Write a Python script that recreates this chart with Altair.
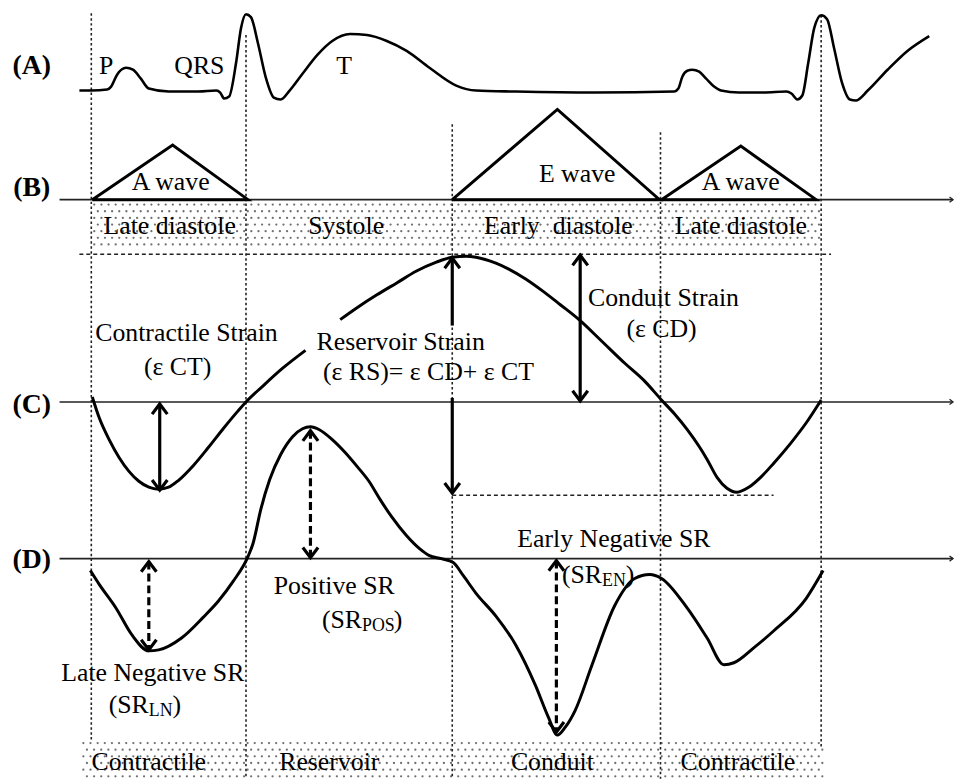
import altair as alt
import pandas as pd
import numpy as np

# ---------------- data (image-like coordinates: x right, y down) ----------------
ecg_x = [80, 92, 108, 112, 118, 127, 134, 142, 150, 170, 200, 218, 222, 226, 231, 238, 243, 248, 253, 260,
         268, 276, 283, 292, 305, 320, 335, 353, 370, 390, 410, 433, 460, 480, 520, 600, 680, 684, 688, 693,
         698, 705, 712, 720, 727, 745, 770, 793, 798, 804, 809, 815, 821, 828, 834, 841, 849, 857, 863, 875,
         895, 915, 937]
ecg_y = [88, 88, 87, 84, 72, 65, 67, 76, 86, 89, 89, 88, 90, 96, 94, 60, 25, 11, 14, 40,
         75, 95, 97, 88, 71, 52, 38, 31, 32, 38, 48, 65, 83, 88, 89, 90, 89, 86, 74, 68,
         67, 69, 76, 84, 88, 90, 90, 89, 91, 97, 93, 60, 25, 12, 16, 45, 80, 97, 98, 88,
         67, 48, 33]

# strain curve (C): two pieces (gap behind the label)
c1_x = [93, 100, 110, 120, 130, 140, 150, 160, 170, 180, 195, 210, 225, 240, 248, 265, 285, 308]
c1_y = [397, 418, 440, 458, 472, 482, 488, 490, 488, 481, 466, 448, 429, 411, 402, 386, 368, 350]
c2_x = [343, 360, 380, 400, 420, 440, 456, 470, 480, 500, 513, 530, 547, 565, 585, 605, 630, 650, 667,
        680, 693, 705, 713, 723, 733, 743, 755, 768, 780, 797, 813, 828]
c2_y = [319, 307, 294, 282, 270, 261, 256, 255, 256, 262, 268, 278, 290, 304, 320, 339, 363, 381, 400,
        414, 430, 447, 460, 478, 489, 493, 488, 477, 464, 444, 423, 400]

# strain-rate curve (D)
d_x = [91, 100, 117, 133, 150, 160, 183, 205, 220, 235, 250, 255, 263, 272, 283, 295, 305, 313, 322, 335,
       348, 360, 372, 383, 395, 410, 423, 433, 445, 457, 467, 480, 500, 520, 540, 553, 562, 570, 580, 597,
       620, 640, 655, 667, 693, 713, 730, 740, 760, 780, 813, 830]
d_y = [572, 586, 610, 637, 653, 652, 640, 619, 603, 583, 558, 545, 510, 480, 455, 437, 429, 427, 430, 440,
       453, 467, 482, 500, 518, 537, 550, 557, 560, 564, 577, 595, 618, 647, 688, 720, 738, 730, 713, 667,
       607, 580, 576, 580, 610, 640, 667, 665, 650, 633, 600, 572]

# mitral inflow triangles (B)
tri_id = ["A1", "A1", "A1", "A1", "E", "E", "E", "E", "A2", "A2", "A2", "A2"]
tri_x = [93, 174, 250, 93, 456, 562, 665, 456, 667, 747, 823, 667]
tri_y = [198, 143, 198, 198, 198, 107, 198, 198, 198, 144, 198, 198]

# baselines (B), (C), (D)
base_y = [198, 402, 560]
base_x0, base_x1 = 60, 961

# dotted phase separators
vline_x = [92, 248, 456, 666, 828]
vline_top = [10, 32, 122, 130, 12]
vline_bot = [745, 782, 782, 782, 752]

# dashed reference lines
hdash_y = [253, 496]
hdash_x0 = [80, 456]
hdash_x1 = [838, 780]

# shaded phase bands
band_x0 = [93, 82]
band_x1 = [829, 830]
band_y0 = [200, 743]
band_y1 = [247, 781]

# solid arrows: x, y0, y1, head at top, head at bottom
sa_x = [161, 456, 456, 585]
sa_y0 = [404, 257, 398, 254]
sa_y1 = [491, 325, 494, 401]
sa_top = [1, 1, 0, 1]
sa_bot = [1, 0, 1, 1]
# dashed arrows
da_x = [313, 150, 561]
da_y0 = [431, 563, 562]
da_y1 = [559, 652, 735]

# labels
lab_text = ["(A)", "(B)", "(C)", "(D)"]
lab_x = [32, 32, 32, 32]
lab_y = [63, 186, 405, 561]

txt = [
    ("P", 107, 63), ("QRS", 201, 63), ("T", 347, 63),
    ("A wave", 172, 180), ("E wave", 582, 172), ("A wave", 747, 180),
    ("Late diastole", 171, 225), ("Systole", 349, 225), ("Early\u2002diastole", 563, 225),
    ("Late diastole", 747, 225),
    ("Contractile Strain", 188, 333), ("(\u03b5 CT)", 179, 367),
    ("Reservoir Strain", 404, 342), ("(\u03b5 RS)= \u03b5 CD+ \u03b5 CT", 432, 372),
    ("Conduit Strain", 669, 297), ("(\u03b5 CD)", 667, 329),
    ("Positive SR", 337, 588), ("Late Negative SR", 154, 675), ("Early Negative SR", 619, 540),
    ("Contractile", 150, 765), ("Reservoir", 332, 765), ("Conduit", 557, 765), ("Contractile", 744, 765),
]
# subscripted labels: (main, sub, x where subscript starts, x where it ends, y)
subs = [("(SR", "POS", 365, 397, 622), ("(SR", "LN", 150, 174, 708), ("(SR", "EN", 607, 631, 577)]

# ---------------- frames ----------------
FONT = "Liberation Serif"
FS = 26
X = alt.X("x:Q", scale=alt.Scale(domain=[8, 957], nice=False, zero=False), axis=None)
Y = alt.Y("y:Q", scale=alt.Scale(domain=[8, 774], nice=False, zero=False, reverse=True), axis=None)

def curve_df(xs, ys, g):
    return pd.DataFrame({"x": xs, "y": ys, "g": g, "i": range(len(xs))})

curves = curve_df(ecg_x, ecg_y, "ecg")
strain = pd.concat([curve_df(c1_x, c1_y, "c1"), curve_df(c2_x, c2_y, "c2"), curve_df(d_x, d_y, "d")])
tri = pd.DataFrame({"x": tri_x, "y": tri_y, "g": tri_id, "i": range(len(tri_x))})

base = pd.DataFrame({"x": [base_x0] * 3, "x2": [base_x1] * 3, "y": base_y, "y2": base_y})
vlines = pd.DataFrame({"x": vline_x, "x2": vline_x, "y": vline_top, "y2": vline_bot})
hdash = pd.DataFrame({"x": hdash_x0, "x2": hdash_x1, "y": hdash_y, "y2": hdash_y})

# dot texture inside the phase bands
dots = []
for bx0, bx1, by0, by1 in zip(band_x0, band_x1, band_y0, band_y1):
    for r, yy in enumerate(np.arange(by0 + 3, by1, 6.7)):
        off = 0 if r % 2 == 0 else 3.6
        for xx in np.arange(bx0 + 2 + off, bx1, 7.2):
            dots.append({"x": float(xx), "y": float(yy)})
dots = pd.DataFrame(dots)

sarr = pd.DataFrame({"x": sa_x, "x2": sa_x, "y": sa_y0, "y2": sa_y1})
darr = pd.DataFrame({"x": da_x, "x2": da_x, "y": da_y0, "y2": da_y1})

heads = []
for x, y0, y1, t, b in zip(sa_x, sa_y0, sa_y1, sa_top, sa_bot):
    if t:
        heads.append({"x": x, "y": y0, "a": 0})
    if b:
        heads.append({"x": x, "y": y1, "a": 180})
for x, y0, y1 in zip(da_x, da_y0, da_y1):
    heads.append({"x": x, "y": y0, "a": 0})
    heads.append({"x": x, "y": y1, "a": 180})
heads = pd.DataFrame(heads)
small_heads = pd.DataFrame({"x": [base_x1] * 3, "y": base_y, "a": [90] * 3})

labels = pd.DataFrame({"t": lab_text, "x": lab_x, "y": lab_y})
texts = pd.DataFrame(txt, columns=["t", "x", "y"])
sub_main = pd.DataFrame({"t": [s[0] for s in subs], "x": [s[2] for s in subs], "y": [s[4] for s in subs]})
sub_sub = pd.DataFrame({"t": [s[1] for s in subs], "x": [s[2] for s in subs], "y": [s[4] + 6 for s in subs]})
sub_end = pd.DataFrame({"t": [")"] * 3, "x": [s[3] for s in subs], "y": [s[4] for s in subs]})

CHEV = "M -0.75 1 L 0 0 L 0.75 1"

# ---------------- layers ----------------
l_dots = alt.Chart(dots).mark_circle(size=5.2, color="#707070", opacity=1).encode(x=X, y=Y)
l_base = alt.Chart(base).mark_rule(color="#222", strokeWidth=1.6).encode(x=X, y=Y, x2="x2:Q", y2="y2:Q")
l_vl = alt.Chart(vlines).mark_rule(color="#222", strokeWidth=1.6, strokeDash=[2.5, 2.5]).encode(
    x=X, y=Y, x2="x2:Q", y2="y2:Q")
l_hd = alt.Chart(hdash).mark_rule(color="#222", strokeWidth=1.5, strokeDash=[4, 3]).encode(
    x=X, y=Y, x2="x2:Q", y2="y2:Q")
l_ecg = alt.Chart(curves).mark_line(color="black", strokeWidth=2.6, interpolate="monotone").encode(
    x=X, y=Y, detail="g:N", order="i:Q")
l_strain = alt.Chart(strain).mark_line(color="black", strokeWidth=3, interpolate="monotone").encode(
    x=X, y=Y, detail="g:N", order="i:Q")
l_tri = alt.Chart(tri).mark_line(color="black", strokeWidth=3, interpolate="linear", strokeJoin="miter").encode(
    x=X, y=Y, detail="g:N", order="i:Q")
l_sarr = alt.Chart(sarr).mark_rule(color="black", strokeWidth=3.2).encode(x=X, y=Y, x2="x2:Q", y2="y2:Q")
l_darr = alt.Chart(darr).mark_rule(color="black", strokeWidth=3.2, strokeDash=[8, 4]).encode(
    x=X, y=Y, x2="x2:Q", y2="y2:Q")
l_heads = alt.Chart(heads).mark_point(shape=CHEV, filled=False, color="black", strokeWidth=3.2,
                                      size=420, opacity=1, strokeJoin="miter").encode(
    x=X, y=Y, angle=alt.Angle("a:Q", scale=None))
l_sheads = alt.Chart(small_heads).mark_point(shape=CHEV, filled=False, color="#222", strokeWidth=1.3,
                                             size=50, opacity=1).encode(
    x=X, y=Y, angle=alt.Angle("a:Q", scale=None))

l_labels = alt.Chart(labels).mark_text(font=FONT, fontSize=28, fontWeight="bold", color="black",
                                       align="center", baseline="middle").encode(x=X, y=Y, text="t:N")
l_texts = alt.Chart(texts).mark_text(font=FONT, fontSize=FS, color="black",
                                     align="center", baseline="middle").encode(x=X, y=Y, text="t:N")
l_sm = alt.Chart(sub_main).mark_text(font=FONT, fontSize=FS, color="black",
                                     align="right", baseline="middle").encode(x=X, y=Y, text="t:N")
l_ss = alt.Chart(sub_sub).mark_text(font=FONT, fontSize=18, color="black",
                                    align="left", baseline="middle").encode(x=X, y=Y, text="t:N")
l_se = alt.Chart(sub_end).mark_text(font=FONT, fontSize=FS, color="black",
                                    align="left", baseline="middle").encode(x=X, y=Y, text="t:N")

chart = alt.layer(
    l_dots, l_base, l_vl, l_hd, l_tri, l_ecg, l_strain, l_sarr, l_darr, l_heads, l_sheads,
    l_labels, l_texts, l_sm, l_ss, l_se
).properties(
    width=949, height=766, autosize="none",
    padding={"left": 0, "top": 0, "right": 8, "bottom": 8},
    background="white",
).configure_view(strokeWidth=0)

chart.save("out.html", embed_options={"renderer": "svg", "actions": False})
